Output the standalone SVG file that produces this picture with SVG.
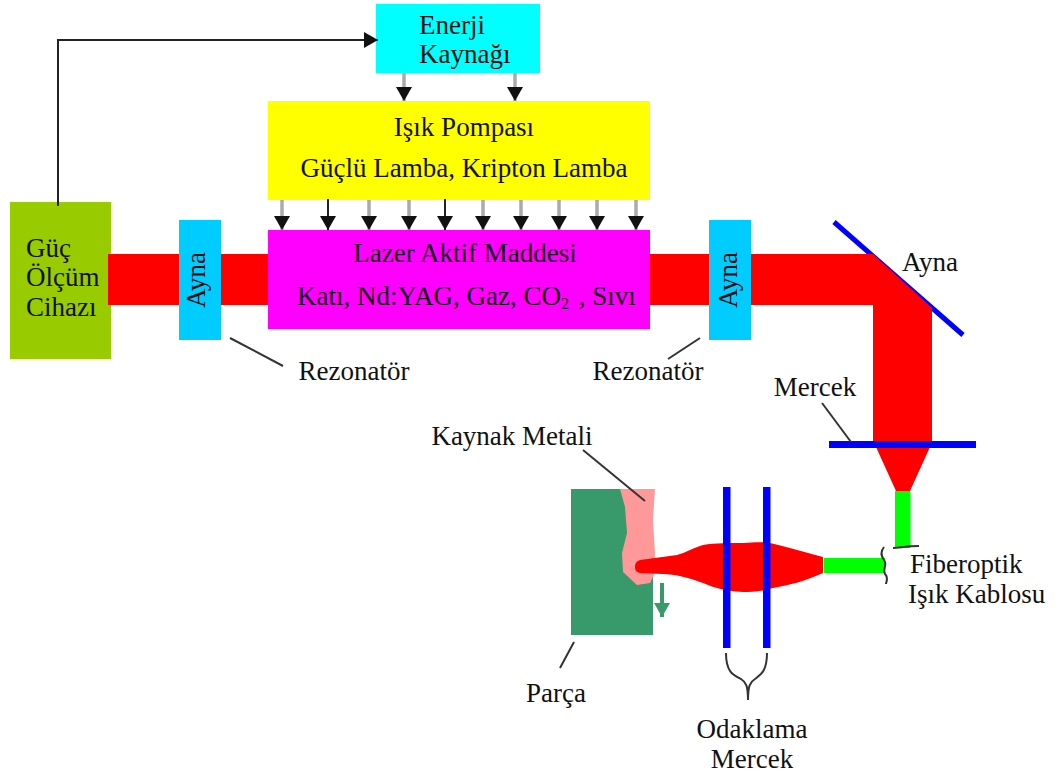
<svg xmlns="http://www.w3.org/2000/svg" width="1056" height="778" viewBox="0 0 1056 778">
<style>
text{font-family:"Liberation Serif","Times New Roman",serif;font-size:27px;fill:#111;text-anchor:middle}
.l{text-anchor:start}
.thin{fill:none;stroke:#333;stroke-width:2}
.wire{fill:none;stroke:#222;stroke-width:2}
.grey{fill:none;stroke:#aaa;stroke-width:3.500}
.blue{fill:#0000ff}
</style>
<defs>
<marker id="a" viewBox="0 0 14 16" refX="14" refY="8" markerWidth="14" markerHeight="16" markerUnits="userSpaceOnUse" orient="auto"><path d="M0 0L14 8L0 16Z" fill="#111"/></marker>
<marker id="g" viewBox="0 0 14 16" refX="14" refY="8" markerWidth="14" markerHeight="16" markerUnits="userSpaceOnUse" orient="auto"><path d="M0 0L14 8L0 16Z" fill="#38996a"/></marker>
</defs>
<g id="guc">
<rect x="10" y="202" width="101" height="157" fill="#99cc00"/>
<text class="l" x="26" y="257">Güç</text><text class="l" x="26" y="286">Ölçüm</text><text class="l" x="26" y="316">Cihazı</text>
</g>
<g id="ayna-45">
<path d="M834 222L963 335" stroke="#0000ff" stroke-width="5" fill="none"/>
<text x="930" y="271">Ayna</text>
</g>
<g id="beam">
<path d="M108 254H873L932 308V444L930 447L910 491H896L876 447L873 444V305H108Z" fill="#ff0000"/>
<rect x="895" y="491" width="15.500" height="57" fill="#00ff00"/>
<path d="M824 558H885V573H824Z" fill="#00ff00"/>
</g>
<g id="enerji">
<rect x="376" y="4" width="164" height="69" fill="#00ffff"/>
<text class="l" x="419" y="34">Enerji</text><text class="l" x="419" y="63">Kaynağı</text>
</g>
<g id="isik-pompasi">
<rect x="268" y="101" width="382" height="99" fill="#ffff00"/>
<text x="464" y="136">Işık Pompası</text><text x="464" y="177">Güçlü Lamba, Kripton Lamba</text>
</g>
<g id="lazer">
<rect x="268" y="230" width="382" height="99" fill="#ff00ff"/>
<text x="465" y="262">Lazer Aktif Maddesi</text>
<text class="l" x="297" y="305">Katı, Nd:YAG, Gaz, CO<tspan font-size="16" dy="4">2</tspan><tspan dy="-4" dx="3"> , Sıvı</tspan></text>
</g>
<g id="ayna-sol">
<rect x="179" y="220" width="42" height="120" fill="#00ccff"/>
<text transform="translate(205 280) rotate(-90)">Ayna</text>
</g>
<g id="ayna-sag">
<rect x="709" y="220" width="42" height="120" fill="#00ccff"/>
<text transform="translate(737 280) rotate(-90)">Ayna</text>
</g>
<g id="mercek">
<rect class="blue" x="829" y="441" width="147" height="7"/>
<text x="815" y="396">Mercek</text>
</g>
<g id="parca">
<rect x="571" y="489" width="82" height="146" fill="#38996a"/>
<path d="M620 489H655L653 520L655 553L654 575L650 583L637 585L623 572L622 553L627 533L625 507Z" fill="#ff9999"/>
<path d="M662 583V617" stroke="#38996a" stroke-width="4" fill="none" marker-end="url(#g)"/>
<text x="556" y="702">Parça</text>
<text x="512" y="445">Kaynak Metali</text>
</g>
<g id="odaklama">
<path d="M823 557V573C805 581 790 585 773 588C760 592 750 592 743 592C725 591 715 588 703 583C690 578 675 574 663 574L640 573C636 572 635 570 635 567C635 563 637 561 640 560L677 555C685 553 695 547 703 545C715 543 730 543 743 543C755 542 765 542 770 543C790 548 805 552 823 557Z" fill="#ff0000"/>
<rect class="blue" x="723" y="487" width="7.500" height="161"/>
<rect class="blue" x="763" y="487" width="7.500" height="161"/>
<text x="752" y="738">Odaklama</text><text x="752" y="768">Mercek</text>
</g>
<g id="fiberoptik">
<text class="l" x="910" y="573">Fiberoptik</text><text class="l" x="908" y="603">Işık Kablosu</text>
</g>
<g id="rezonator">
<text x="354" y="380">Rezonatör</text><text x="648" y="380">Rezonatör</text>
</g>
<g id="connectors">
<path class="wire" d="M58 206V40H378" marker-end="url(#a)"/>
<g class="grey">
<path d="M404 73V101" marker-end="url(#a)"/><path d="M515 73V101" marker-end="url(#a)"/>
<path d="M282 200V230" marker-end="url(#a)"/><path d="M369 200V230" marker-end="url(#a)"/><path d="M409 200V230" marker-end="url(#a)"/><path d="M483 200V230" marker-end="url(#a)"/><path d="M521 200V230" marker-end="url(#a)"/><path d="M559 200V230" marker-end="url(#a)"/><path d="M597 200V230" marker-end="url(#a)"/><path d="M636 200V230" marker-end="url(#a)"/>
</g>
<path class="wire" d="M328 199V230" marker-end="url(#a)"/>
<path class="wire" d="M445 199V230" marker-end="url(#a)"/>
<path class="thin" d="M230 338L283 366"/>
<path class="thin" d="M700 338L668 359"/>
<path class="thin" d="M822 403L851 442"/>
<path class="thin" d="M583 450L645 501"/>
<path class="thin" d="M574 642L560 668"/>
<path class="thin" d="M726 653C726 672 733 675 741 679C746 682 748 686 748 700M767 653C767 672 760 675 755 679C750 682 748 686 748 700"/>
<path class="thin" d="M893 548C900 548 905 546 919 546"/>
<path class="thin" stroke-width="1.500" d="M884 547C880 552 881 556 884 560C888 565 882 569 885 574C889 578 886 582 886 584"/>
</g>
</svg>
